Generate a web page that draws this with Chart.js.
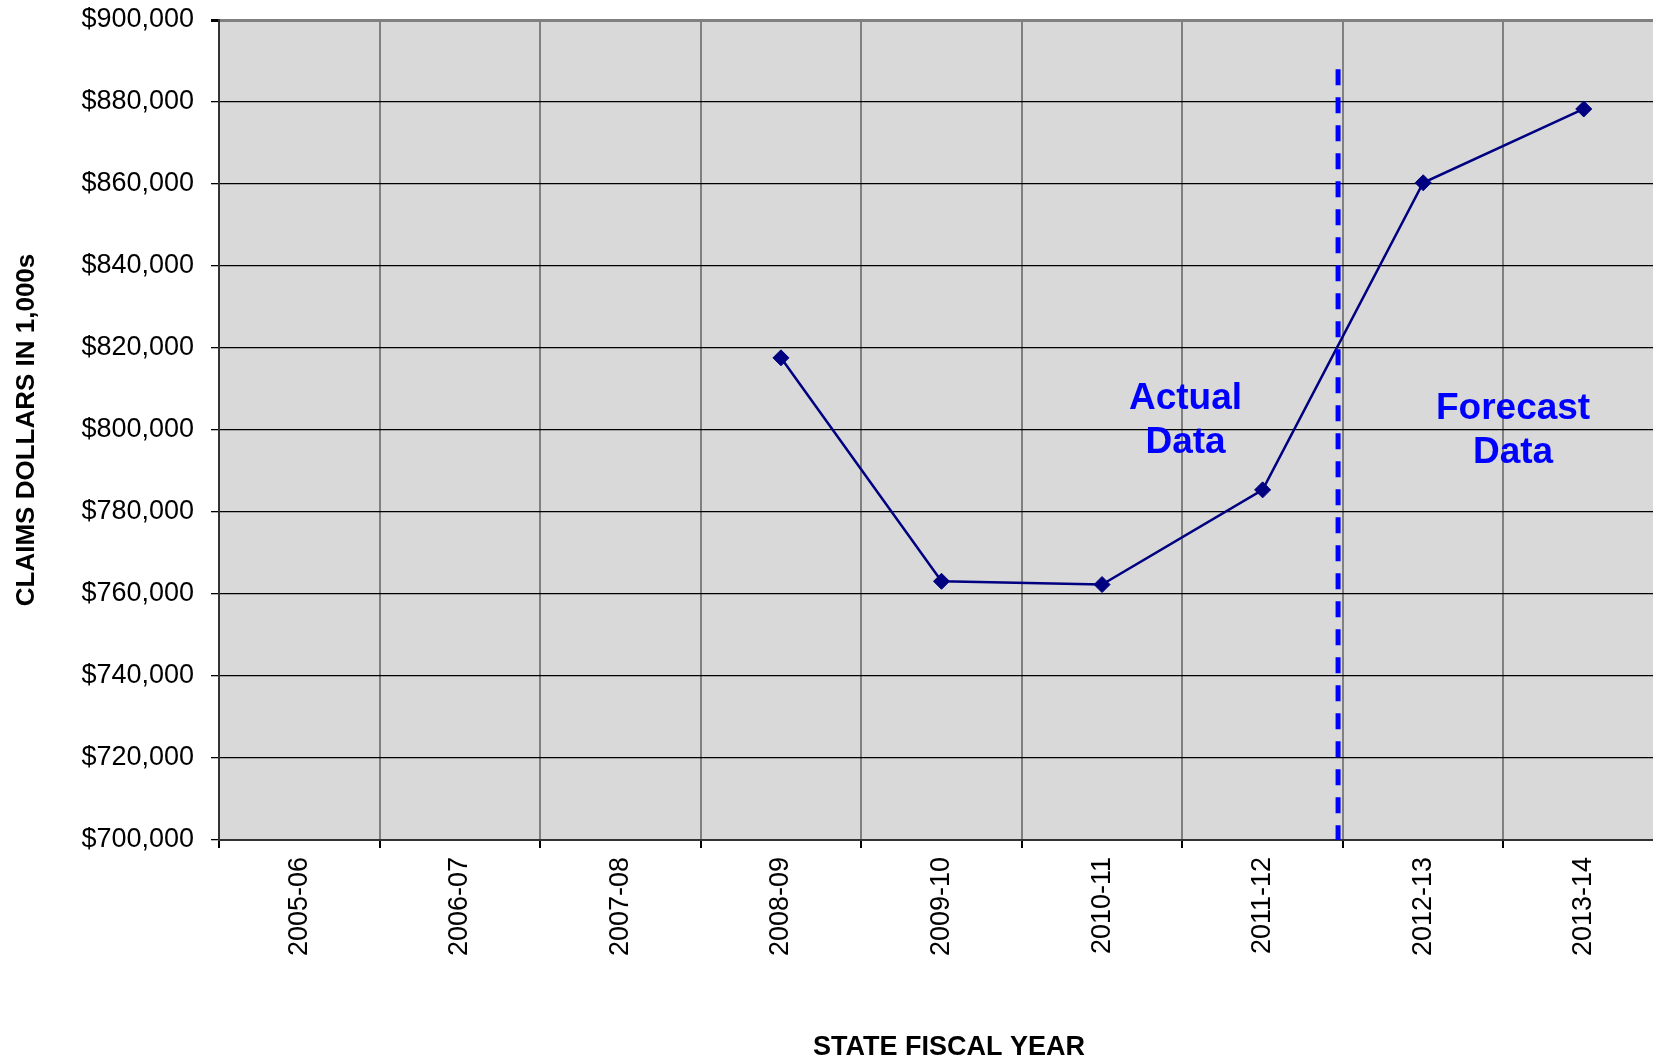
<!DOCTYPE html>
<html>
<head>
<meta charset="utf-8">
<script src="https://cdn.jsdelivr.net/npm/chart.js@4.4.0/dist/chart.umd.min.js"></script>
<style>
    html, body { margin: 0; padding: 0; background: #fff; overflow: hidden; }
    #wrap { width: 1680px; height: 1062px; }
</style>
</head>
<body>
<div id="wrap"><canvas id="claimsChart" width="1680" height="1062"></canvas></div>
<script>
// state fiscal years on the x axis
const fiscalYears = ['2005-06', '2006-07', '2007-08', '2008-09', '2009-10',
                     '2010-11', '2011-12', '2012-13', '2013-14'];
// claims dollars in 1,000s (no data before 2008-09)
const claimsDollars = [null, null, null, 817600, 763100, 762300, 785400, 860300, 878300];

// y axis range and step
const yMin = 700000;
const yMax = 900000;
const yStep = 20000;

// split between actual and forecast (category index units), top of the dashed line
const splitAt = 6.47;
const splitTop = 888000;

// annotation labels: text lines, category index position, value of first line
const notes = [
    { lines: ['Actual', 'Data'], at: 5.52, value: 807500 },
    { lines: ['Forecast', 'Data'], at: 7.56, value: 805100 }
];

const fontFamily = '"Liberation Sans", Arial, sans-serif';

const plotBackground = {
    id: 'plotBackground',
    beforeDraw(chart) {
        const { ctx, chartArea } = chart;
        ctx.save();
        ctx.fillStyle = '#d9d9d9';
        ctx.fillRect(chartArea.left, chartArea.top, chartArea.right - chartArea.left, chartArea.bottom - chartArea.top);
        ctx.restore();
    }
};

const splitMarks = {
    id: 'splitMarks',
    afterDatasetsDraw(chart) {
        const { ctx, scales } = chart;
        const x = scales.x.getPixelForValue(splitAt);
        ctx.save();
        ctx.strokeStyle = '#0000ff';
        ctx.lineWidth = 5;
        ctx.setLineDash([16, 12]);
        ctx.beginPath();
        ctx.moveTo(x, scales.y.getPixelForValue(splitTop));
        ctx.lineTo(x, scales.y.getPixelForValue(yMin));
        ctx.stroke();
        ctx.setLineDash([]);

        ctx.fillStyle = '#0000ff';
        ctx.font = 'bold 37px ' + fontFamily;
        ctx.textAlign = 'center';
        ctx.textBaseline = 'middle';
        notes.forEach(function (n) {
            const nx = scales.x.getPixelForValue(n.at);
            const ny = scales.y.getPixelForValue(n.value);
            n.lines.forEach(function (line, i) {
                ctx.fillText(line, nx, ny + i * 44);
            });
        });
        ctx.restore();
    }
};

new Chart(document.getElementById('claimsChart'), {
    type: 'line',
    data: {
        labels: fiscalYears,
        datasets: [{
            data: claimsDollars,
            borderColor: '#000080',
            backgroundColor: '#000080',
            borderWidth: 2.5,
            pointStyle: 'rectRot',
            pointRadius: 8,
            pointBorderWidth: 1,
            spanGaps: false,
            tension: 0
        }]
    },
    options: {
        responsive: false,
        animation: false,
        layout: { padding: { top: 20, right: 16, left: 0, bottom: 0 } },
        plugins: {
            legend: { display: false },
            tooltip: { enabled: false }
        },
        scales: {
            x: {
                offset: true,
                grid: {
                    offset: true,
                    color: '#808080',
                    lineWidth: 2,
                    tickColor: '#000',
                    tickLength: 8
                },
                border: { color: '#333', width: 2 },
                ticks: {
                    color: '#000',
                    font: { family: fontFamily, size: 27 },
                    minRotation: 90,
                    maxRotation: 90,
                    padding: 9,
                    autoSkip: false
                },
                title: {
                    display: true,
                    text: '\u00a0\u00a0STATE FISCAL YEAR',
                    color: '#000',
                    font: { family: fontFamily, size: 27, weight: 'bold', lineHeight: 1.1 },
                    padding: { top: 0, bottom: 0 }
                },
                afterFit(scale) {
                    scale.height = 222;
                    scale.paddingLeft = 0;
                    scale.paddingRight = 0;
                }
            },
            y: {
                min: yMin,
                max: yMax,
                grid: {
                    color: function (ctx) {
                        return ctx.tick && ctx.tick.value === yMax ? '#808080' : '#000';
                    },
                    lineWidth: function (ctx) {
                        return ctx.tick && ctx.tick.value === yMax ? 3 : 1.3;
                    },
                    tickColor: '#000',
                    tickLength: 8
                },
                border: { color: '#333', width: 2 },
                ticks: {
                    stepSize: yStep,
                    color: '#000',
                    font: { family: fontFamily, size: 27 },
                    padding: 17,
                    callback: function (v) { return '$' + v.toLocaleString('en-US'); }
                },
                title: {
                    display: true,
                    text: 'CLAIMS DOLLARS IN 1,000s',
                    color: '#000',
                    font: { family: fontFamily, size: 26, weight: 'bold', lineHeight: 1.2 },
                    padding: { top: 11, bottom: 0 }
                },
                afterFit(scale) {
                    scale.width = 219;
                    scale.paddingTop = 0;
                    scale.paddingBottom = 0;
                }
            }
        }
    },
    plugins: [plotBackground, splitMarks]
});
</script>
</body>
</html>
